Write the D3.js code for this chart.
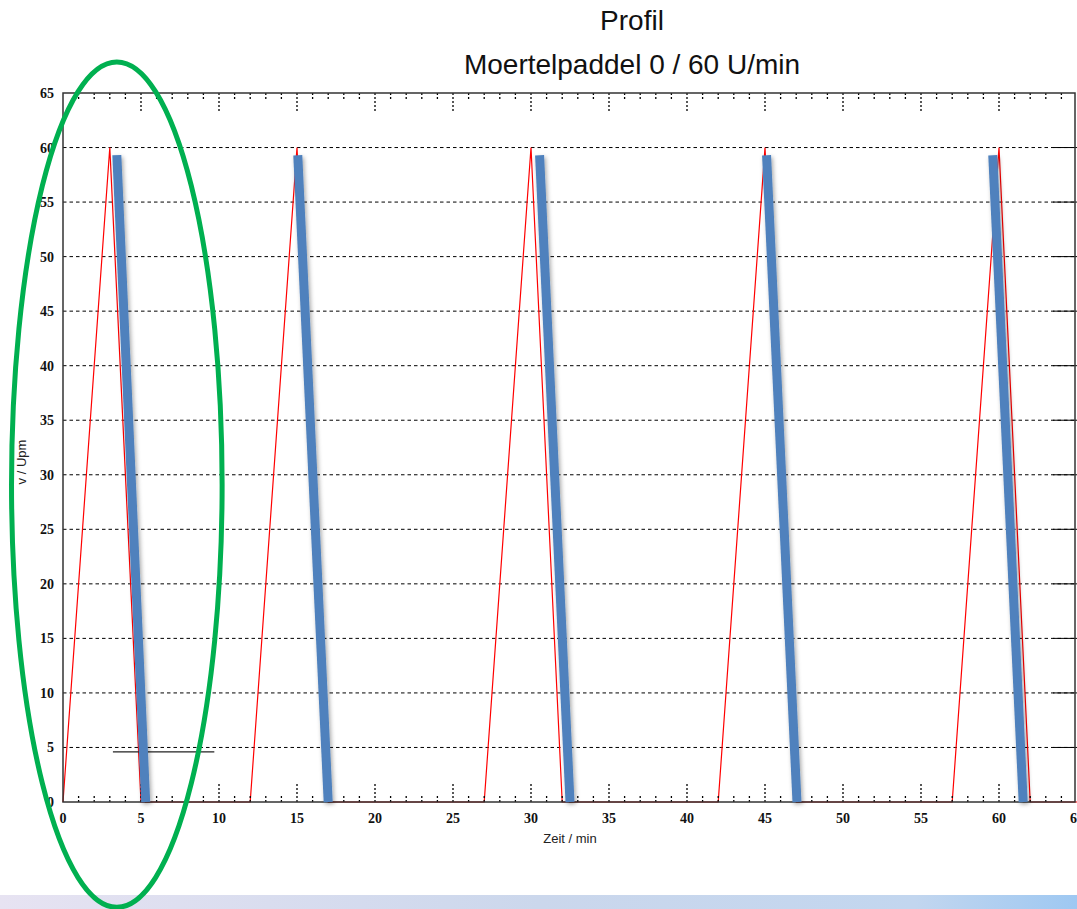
<!DOCTYPE html>
<html><head><meta charset="utf-8">
<script src="https://cdn.jsdelivr.net/npm/d3@7"></script>
<style>body{margin:0;background:#fff;} svg{display:block;}</style>
</head><body>
<script>
// ---- data ----
const profileTime = [0,3,5,12,15,17,27,30,32,42,45,47,57,60,62,65];
const profileSpeed = [0,60,0,0,60,0,0,60,0,0,60,0,0,60,0,0];
const highlightStartTime = [3.45, 15.05, 30.55, 45.1, 59.6];
const highlightStartSpeed = [59.3, 59.3, 59.3, 59.3, 59.3];
const highlightEndTime = [5.3, 17.0, 32.5, 47.05, 61.55];
const highlightEndSpeed = [0, 0, 0, 0, 0];
const markerTime = [3.2, 9.7];
const markerSpeed = [4.6, 4.6];
const ellipseCenter = [3.45, 29.1]; // time, speed
const ellipseRadius = [6.75, 38.75];  // time units, speed units
const xTicks = d3.range(0, 66, 5);
const yTicks = d3.range(0, 66, 5);
const titleLines = ["Profil", "Moertelpaddel 0 / 60 U/min"];
const xLabel = "Zeit / min";
const yLabel = "v / Upm";

const W = 1077, H = 909;
const m = {left: 63, right: 1077, top: 93, bottom: 802};
const svg = d3.select("body").append("svg").attr("width", W).attr("height", H);

const defs = svg.append("defs");
const grad = defs.append("linearGradient").attr("id","band").attr("x1","0").attr("x2","1");
grad.append("stop").attr("offset","0").attr("stop-color","#e7e3f2");
grad.append("stop").attr("offset","0.5").attr("stop-color","#cbd7ec");
grad.append("stop").attr("offset","0.85").attr("stop-color","#c2d6ef");
grad.append("stop").attr("offset","1").attr("stop-color","#9ec8f2");
const f = defs.append("filter").attr("id","sh").attr("x","-50%").attr("y","-10%").attr("width","200%").attr("height","120%");
f.append("feDropShadow").attr("dx",1.5).attr("dy",2).attr("stdDeviation",2).attr("flood-color","#000").attr("flood-opacity",0.35);

svg.append("rect").attr("x",0).attr("y",895).attr("width",W).attr("height",14).attr("fill","url(#band)");

const x = d3.scaleLinear().domain([0,65]).range([m.left, m.right]);
const y = d3.scaleLinear().domain([0,65]).range([m.bottom, m.top]);

// horizontal grid
svg.append("g").selectAll("line").data(yTicks.filter(d=>d>0 && d<65)).join("line")
  .attr("x1", m.left).attr("x2", m.right-2).attr("y1", d=>y(d)).attr("y2", d=>y(d))
  .attr("stroke","#000").attr("stroke-width",1).attr("stroke-dasharray","3.5,3");

// red profile (under the frame)
const pts = profileTime.map((t,i)=>[t, profileSpeed[i]]);
svg.append("path").attr("d", d3.line().x(d=>x(d[0])).y(d=>y(d[1]))(pts))
  .attr("fill","none").attr("stroke","#ff0000").attr("stroke-width",1.2);

// x minor/major ticks bottom & top (dotted)
const allX = d3.range(1, 65, 1);
const tickG = svg.append("g").attr("stroke","#000").attr("stroke-width",1.3).attr("stroke-dasharray","2,2");
tickG.selectAll(".tb").data(allX).join("line")
  .attr("x1", d=>x(d)).attr("x2", d=>x(d))
  .attr("y1", m.bottom).attr("y2", d=> m.bottom - (d%5===0 ? 20 : 6));
tickG.selectAll(".tt").data(allX).join("line")
  .attr("x1", d=>x(d)).attr("x2", d=>x(d))
  .attr("y1", m.top).attr("y2", d=> m.top + (d%5===0 ? 20 : 6));
// y right ticks
svg.append("g").selectAll("line").data(yTicks.filter(d=>d>0&&d<65)).join("line")
  .attr("x1", m.right-24).attr("x2", m.right).attr("y1", d=>y(d)).attr("y2", d=>y(d))
  .attr("stroke","#000").attr("stroke-width",1);

// frame
svg.append("rect").attr("x",m.left).attr("y",m.top).attr("width",m.right-2-m.left).attr("height",m.bottom-m.top)
  .attr("fill","none").attr("stroke","#333").attr("stroke-width",1.5);

// tick labels
const tickFont = "'Liberation Serif','Times New Roman',serif";
svg.append("g").selectAll("text").data(xTicks).join("text")
  .attr("x", d=>x(d)).attr("y", m.bottom+21).attr("text-anchor","middle")
  .attr("font-family",tickFont).attr("font-weight","bold").attr("font-size",14).attr("fill","#111")
  .text(d=>d);
svg.append("g").selectAll("text").data(yTicks).join("text")
  .attr("x", m.left-9).attr("y", d=>y(d)+5).attr("text-anchor","end")
  .attr("font-family",tickFont).attr("font-weight","bold").attr("font-size",14).attr("fill","#111")
  .text(d=>d);

// axis labels
svg.append("text").attr("x",570).attr("y",843).attr("text-anchor","middle")
  .attr("font-family","'Liberation Sans',Arial,sans-serif").attr("font-size",13).attr("fill","#222").text(xLabel);
svg.append("text").attr("transform","translate(26,462) rotate(-90)").attr("text-anchor","middle")
  .attr("font-family","'Liberation Sans',Arial,sans-serif").attr("font-size",13).attr("fill","#222").text(yLabel);

// title
svg.append("g").selectAll("text").data(titleLines).join("text")
  .attr("x",632).attr("y",(d,i)=>30+i*44).attr("text-anchor","middle")
  .attr("font-family","'Liberation Sans',Arial,sans-serif").attr("font-size",28).attr("fill","#111").text(d=>d);

// marker line
svg.append("line").attr("x1",x(markerTime[0])).attr("x2",x(markerTime[1]))
  .attr("y1",y(markerSpeed[0])).attr("y2",y(markerSpeed[1])).attr("stroke","#222").attr("stroke-width",1.3);

// blue highlight bars
svg.append("g").attr("filter","url(#sh)").selectAll("line").data(highlightStartTime).join("line")
  .attr("x1",(d)=>x(d)).attr("y1",(d,i)=>y(highlightStartSpeed[i]))
  .attr("x2",(d,i)=>x(highlightEndTime[i])).attr("y2",(d,i)=>y(highlightEndSpeed[i]))
  .attr("stroke","#4f81bd").attr("stroke-width",9);

// green ellipse
svg.append("ellipse").attr("cx",x(ellipseCenter[0])).attr("cy",y(ellipseCenter[1]))
  .attr("rx", x(ellipseRadius[0]) - x(0)).attr("ry", y(0) - y(ellipseRadius[1]))
  .attr("fill","none").attr("stroke","#00b050").attr("stroke-width",5);
</script>
</body></html>
